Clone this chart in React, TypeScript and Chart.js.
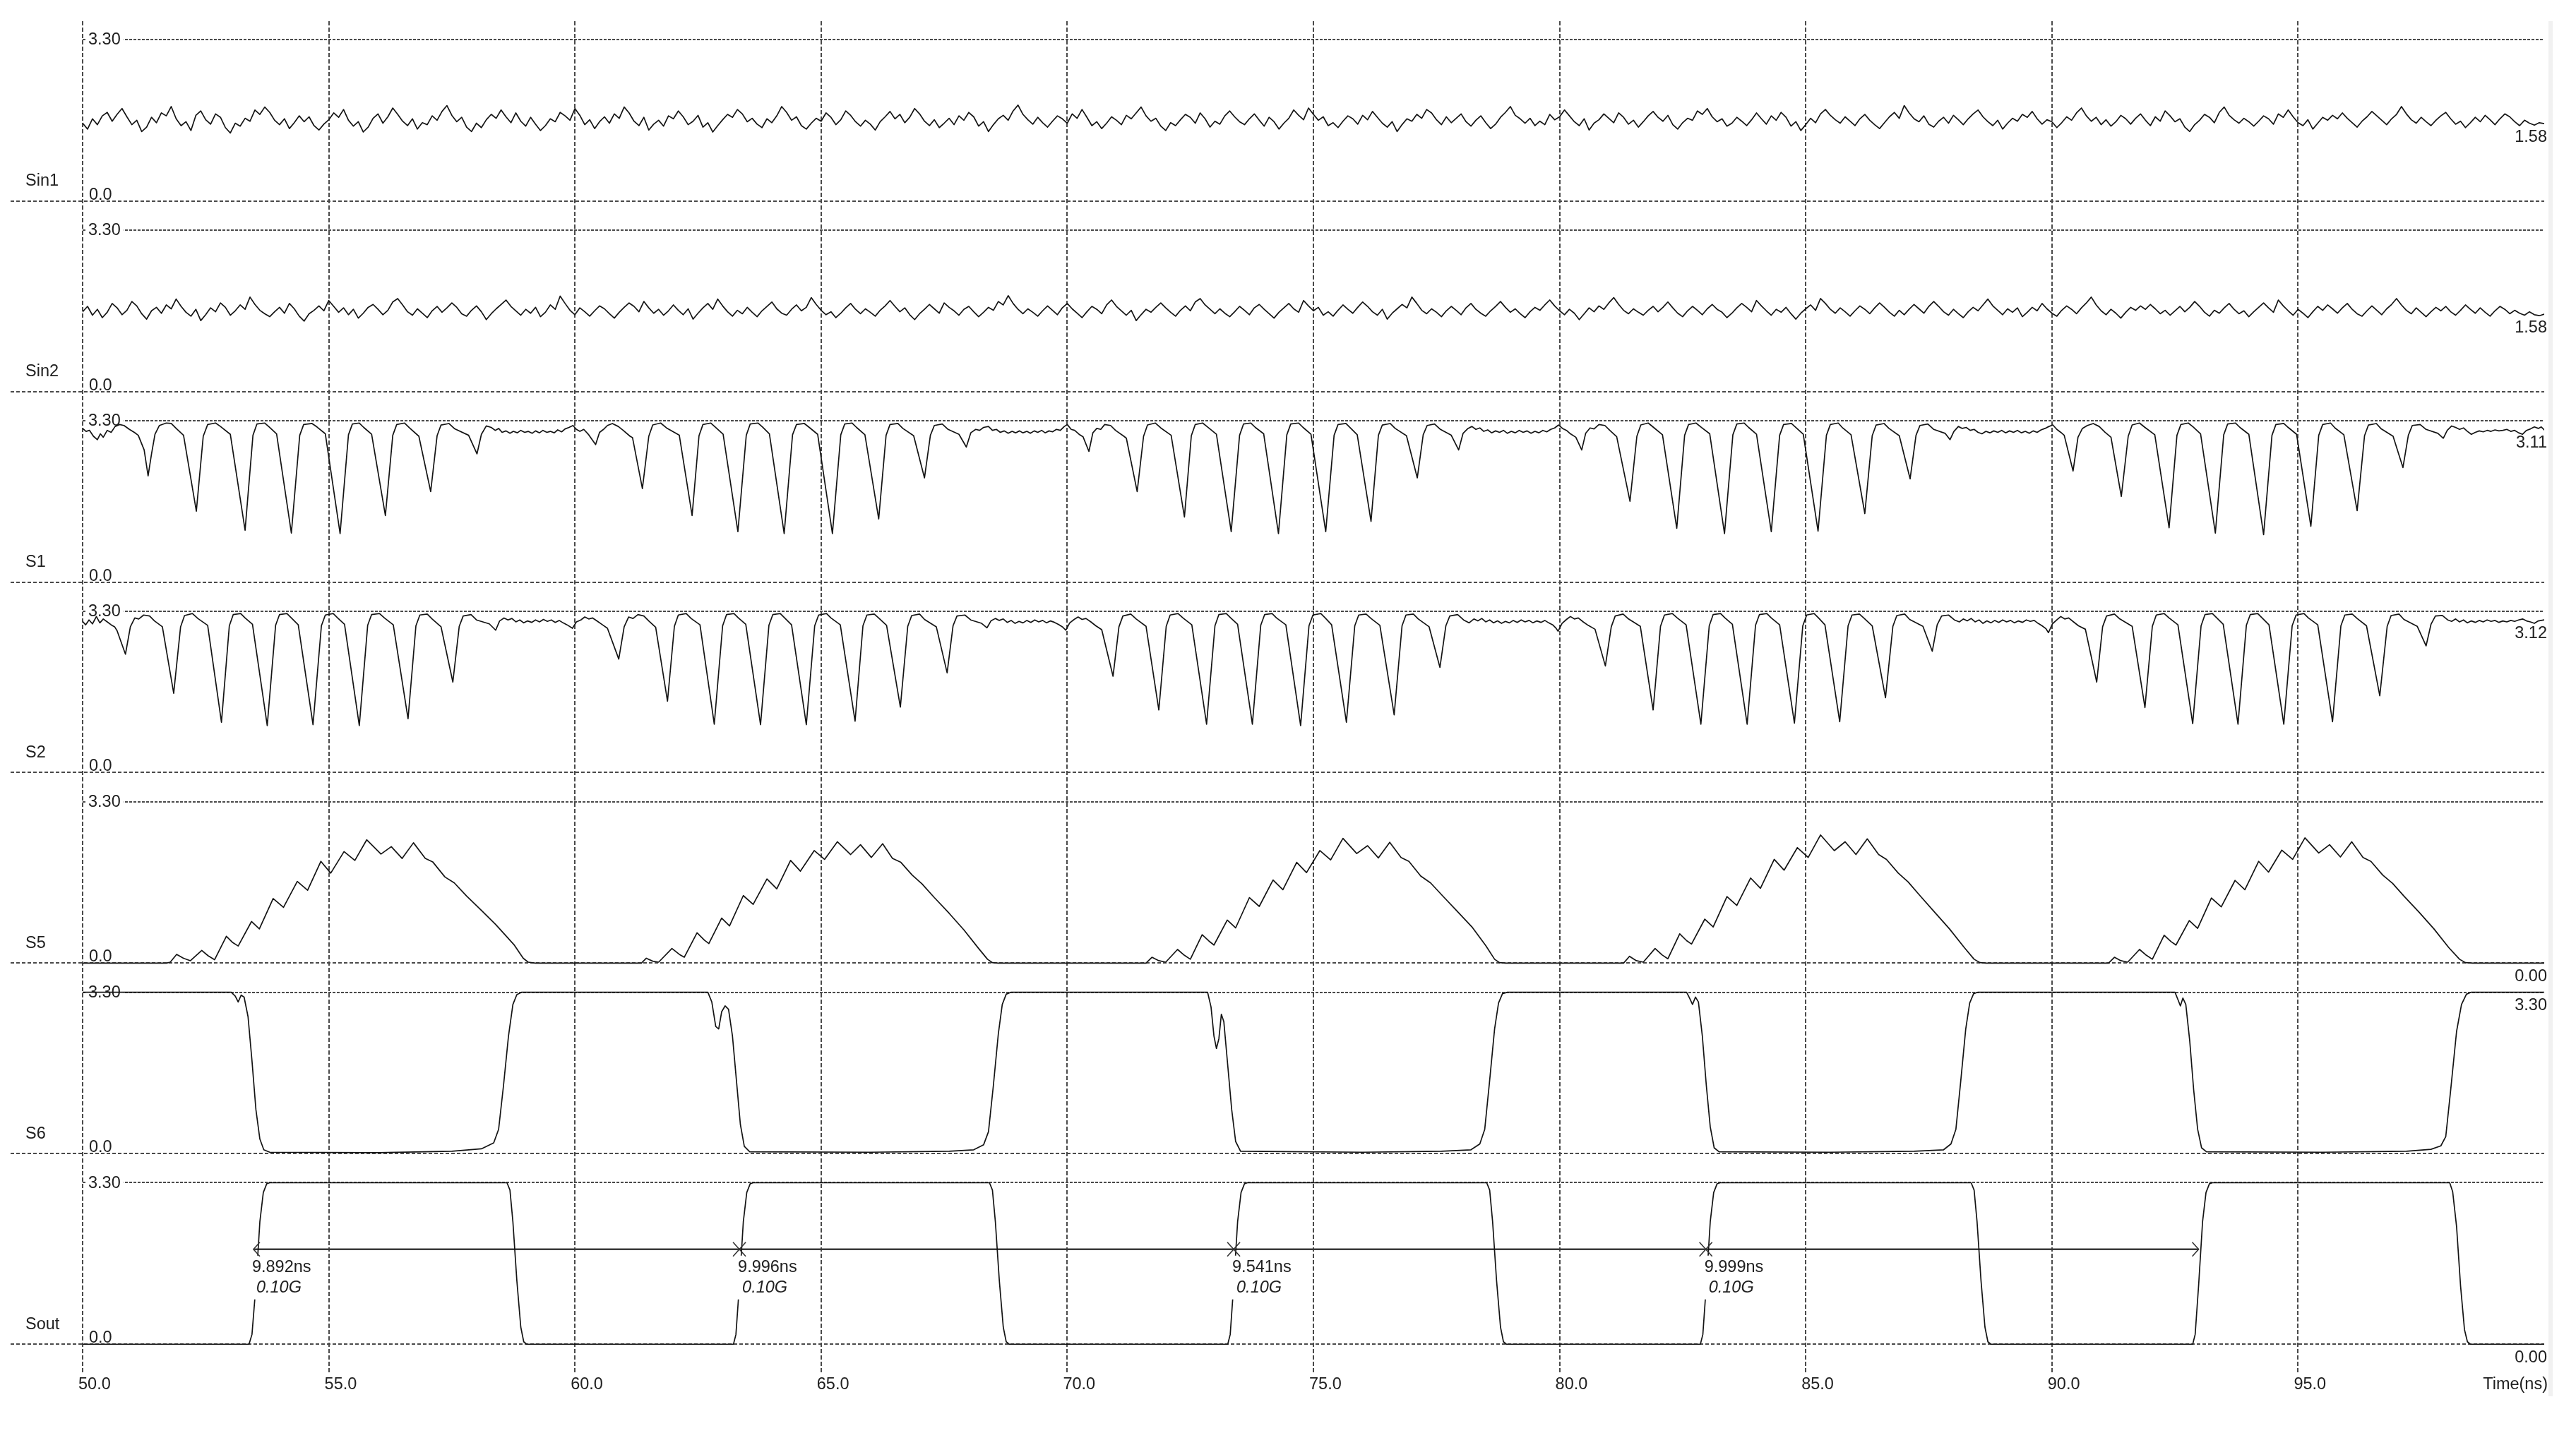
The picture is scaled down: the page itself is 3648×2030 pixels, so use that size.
import React, { useEffect, useRef } from 'react';
import { Chart, registerables } from 'chart.js';

Chart.register(...registerables);

// ---------------- data ----------------
const xTicks = [50, 55, 60, 65, 70, 75, 80, 85, 90, 95];
const panelNames = ['Sin1', 'Sin2', 'S1', 'S2', 'S5', 'S6', 'Sout'];
const endLabels = ['1.58', '1.58', '3.11', '3.12', '0.00', '3.30', '0.00'];
const topTickLabel = '3.30';
const bottomTickLabel = '0.0';
const axisTitle = 'Time(ns)';

const SIN_T0 = 50;
const SIN_DT = 0.1;

const sin1Values = [
  1.59,1.47,1.68,1.56,1.74,1.81,1.63,1.77,1.89,1.72,1.56,1.65,1.42,1.51,1.71,1.60,1.80,1.74,1.93,1.68,
  1.54,1.62,1.44,1.75,1.84,1.66,1.57,1.78,1.71,1.50,1.39,1.59,1.53,1.69,1.63,1.86,1.77,1.92,1.81,1.65,
  1.56,1.68,1.48,1.60,1.74,1.62,1.72,1.54,1.45,1.57,1.66,1.80,1.71,1.87,1.65,1.53,1.62,1.41,1.51,1.69,
  1.78,1.59,1.72,1.90,1.77,1.63,1.54,1.68,1.47,1.60,1.56,1.74,1.65,1.83,1.95,1.75,1.62,1.71,1.51,1.42,
  1.59,1.50,1.66,1.77,1.69,1.86,1.72,1.60,1.80,1.63,1.53,1.71,1.57,1.44,1.54,1.68,1.62,1.81,1.74,1.65,
  1.89,1.75,1.56,1.66,1.48,1.62,1.72,1.59,1.78,1.69,1.92,1.80,1.63,1.54,1.71,1.45,1.57,1.65,1.53,1.74,
  1.68,1.84,1.72,1.56,1.63,1.75,1.51,1.60,1.41,1.54,1.66,1.77,1.71,1.87,1.78,1.62,1.69,1.57,1.50,1.68,
  1.60,1.74,1.93,1.81,1.65,1.72,1.54,1.47,1.59,1.69,1.63,1.80,1.71,1.56,1.66,1.84,1.75,1.62,1.53,1.65,
  1.57,1.45,1.62,1.72,1.83,1.68,1.77,1.60,1.71,1.89,1.78,1.63,1.54,1.66,1.50,1.59,1.69,1.56,1.74,1.65,
  1.81,1.72,1.53,1.62,1.42,1.56,1.68,1.75,1.65,1.84,1.96,1.77,1.66,1.57,1.71,1.60,1.51,1.63,1.74,1.68,
  1.59,1.78,1.69,1.87,1.71,1.54,1.62,1.48,1.59,1.72,1.65,1.56,1.75,1.68,1.80,1.92,1.74,1.63,1.69,1.53,
  1.44,1.60,1.54,1.66,1.77,1.71,1.59,1.80,1.68,1.51,1.63,1.57,1.74,1.84,1.72,1.62,1.56,1.68,1.78,1.65,
  1.53,1.71,1.62,1.47,1.59,1.69,1.86,1.75,1.66,1.90,1.77,1.65,1.72,1.54,1.60,1.50,1.63,1.74,1.68,1.57,
  1.75,1.66,1.83,1.71,1.59,1.51,1.62,1.42,1.56,1.68,1.63,1.77,1.69,1.87,1.80,1.66,1.56,1.72,1.60,1.69,
  1.78,1.62,1.53,1.65,1.74,1.60,1.48,1.57,1.71,1.81,1.93,1.75,1.68,1.59,1.69,1.54,1.63,1.56,1.77,1.66,
  1.72,1.86,1.74,1.62,1.54,1.68,1.45,1.59,1.66,1.78,1.69,1.60,1.80,1.71,1.57,1.65,1.51,1.62,1.74,1.83,
  1.71,1.63,1.75,1.56,1.47,1.60,1.69,1.65,1.84,1.77,1.89,1.72,1.62,1.68,1.53,1.59,1.71,1.63,1.54,1.66,
  1.80,1.68,1.57,1.74,1.65,1.81,1.71,1.53,1.62,1.44,1.56,1.69,1.60,1.78,1.87,1.75,1.66,1.59,1.72,1.63,
  1.54,1.68,1.77,1.65,1.56,1.48,1.60,1.72,1.81,1.69,1.95,1.80,1.68,1.62,1.74,1.57,1.51,1.63,1.71,1.59,
  1.75,1.66,1.56,1.68,1.78,1.86,1.72,1.62,1.54,1.65,1.47,1.59,1.69,1.63,1.77,1.71,1.83,1.68,1.57,1.66,
  1.62,1.50,1.60,1.72,1.65,1.80,1.90,1.74,1.63,1.71,1.56,1.66,1.53,1.62,1.75,1.68,1.57,1.69,1.78,1.65,
  1.54,1.72,1.63,1.84,1.74,1.62,1.68,1.51,1.42,1.56,1.65,1.77,1.71,1.60,1.81,1.92,1.75,1.66,1.59,1.69,
  1.62,1.53,1.63,1.74,1.68,1.57,1.78,1.71,1.86,1.72,1.60,1.54,1.66,1.47,1.59,1.71,1.65,1.75,1.68,1.80,
  1.69,1.60,1.51,1.63,1.72,1.83,1.74,1.65,1.56,1.68,1.77,1.93,1.78,1.66,1.59,1.71,1.62,1.54,1.65,1.74,
  1.81,1.68,1.57,1.63,1.50,1.60,1.71,1.62,1.75,1.66,1.56,1.68,1.78,1.72,1.62,1.54,1.65,1.59,1.55,1.60,
  1.58,
];

const sin2Values = [
  1.63,1.74,1.56,1.68,1.51,1.62,1.80,1.71,1.57,1.66,1.84,1.75,1.59,1.48,1.65,1.72,1.60,1.77,1.69,1.89,
  1.74,1.62,1.54,1.68,1.45,1.57,1.71,1.63,1.81,1.72,1.56,1.65,1.77,1.68,1.93,1.78,1.66,1.59,1.53,1.63,
  1.72,1.60,1.80,1.69,1.54,1.44,1.59,1.66,1.75,1.65,1.86,1.74,1.62,1.71,1.57,1.68,1.50,1.60,1.72,1.78,
  1.68,1.57,1.66,1.83,1.90,1.77,1.63,1.56,1.69,1.60,1.51,1.65,1.74,1.62,1.71,1.81,1.72,1.59,1.54,1.66,
  1.75,1.63,1.47,1.59,1.69,1.78,1.87,1.74,1.65,1.56,1.68,1.60,1.72,1.53,1.62,1.77,1.68,1.95,1.80,1.66,
  1.57,1.71,1.63,1.54,1.65,1.75,1.69,1.59,1.50,1.62,1.72,1.81,1.74,1.63,1.84,1.71,1.60,1.68,1.56,1.65,
  1.77,1.66,1.57,1.69,1.48,1.60,1.71,1.80,1.68,1.89,1.75,1.63,1.54,1.66,1.59,1.72,1.62,1.53,1.65,1.74,
  1.83,1.69,1.60,1.56,1.68,1.77,1.65,1.72,1.92,1.78,1.66,1.57,1.63,1.51,1.60,1.71,1.80,1.68,1.59,1.69,
  1.62,1.54,1.66,1.75,1.86,1.74,1.63,1.71,1.57,1.47,1.59,1.68,1.78,1.69,1.60,1.81,1.72,1.65,1.56,1.68,
  1.74,1.63,1.53,1.62,1.72,1.66,1.84,1.77,1.96,1.80,1.68,1.59,1.69,1.62,1.54,1.65,1.75,1.66,1.57,1.71,
  1.80,1.69,1.60,1.51,1.63,1.74,1.68,1.59,1.77,1.87,1.74,1.65,1.56,1.66,1.45,1.57,1.68,1.62,1.72,1.81,
  1.71,1.62,1.54,1.66,1.75,1.65,1.83,1.90,1.77,1.68,1.59,1.69,1.60,1.53,1.63,1.74,1.66,1.57,1.71,1.78,
  1.68,1.59,1.50,1.62,1.71,1.80,1.69,1.62,1.86,1.75,1.65,1.72,1.56,1.63,1.54,1.66,1.77,1.68,1.60,1.72,
  1.83,1.74,1.63,1.56,1.68,1.48,1.60,1.69,1.78,1.71,1.93,1.80,1.66,1.59,1.69,1.62,1.53,1.65,1.74,1.66,
  1.57,1.71,1.80,1.68,1.60,1.54,1.65,1.74,1.84,1.72,1.62,1.69,1.59,1.51,1.63,1.72,1.66,1.77,1.87,1.75,
  1.65,1.57,1.68,1.60,1.47,1.59,1.71,1.63,1.75,1.68,1.81,1.92,1.78,1.66,1.59,1.69,1.62,1.56,1.66,1.74,
  1.63,1.72,1.83,1.71,1.60,1.53,1.65,1.74,1.66,1.57,1.69,1.78,1.68,1.62,1.51,1.60,1.71,1.80,1.72,1.63,
  1.86,1.75,1.65,1.56,1.68,1.62,1.72,1.59,1.48,1.60,1.69,1.77,1.66,1.90,1.80,1.68,1.60,1.71,1.63,1.54,
  1.65,1.75,1.68,1.59,1.71,1.81,1.72,1.62,1.54,1.66,1.57,1.68,1.78,1.69,1.60,1.74,1.84,1.74,1.63,1.56,
  1.68,1.59,1.51,1.63,1.72,1.65,1.77,1.89,1.75,1.66,1.57,1.69,1.62,1.71,1.53,1.62,1.72,1.65,1.80,1.69,
  1.60,1.54,1.66,1.75,1.68,1.59,1.71,1.81,1.93,1.77,1.65,1.57,1.68,1.60,1.50,1.62,1.72,1.66,1.75,1.68,
  1.78,1.69,1.59,1.66,1.56,1.65,1.74,1.63,1.72,1.84,1.74,1.62,1.54,1.66,1.60,1.71,1.80,1.68,1.59,1.65,
  1.53,1.63,1.72,1.81,1.71,1.62,1.87,1.75,1.65,1.56,1.68,1.60,1.51,1.63,1.74,1.66,1.77,1.69,1.60,1.71,
  1.80,1.68,1.59,1.54,1.65,1.75,1.66,1.57,1.69,1.78,1.90,1.77,1.66,1.59,1.71,1.62,1.53,1.63,1.72,1.65,
  1.74,1.63,1.56,1.66,1.77,1.68,1.60,1.71,1.62,1.54,1.65,1.74,1.68,1.59,1.66,1.60,1.56,1.63,1.57,1.55,
  1.58,
];

const s1Points = [
  [50.00,3.14],[50.07,3.08],[50.14,3.10],[50.22,2.98],[50.30,2.91],[50.36,3.03],[50.42,2.96],[50.50,3.10],[50.58,3.06],[50.66,3.18],[50.75,3.22],[50.84,3.20],[50.95,3.12],[51.05,3.06],[51.13,3.00],
  [51.25,2.70],[51.33,2.17],[51.40,2.62],[51.47,3.02],[51.56,3.20],[51.70,3.25],[51.80,3.24],[51.90,3.14],
  [52.05,3.00],[52.31,1.45],[52.45,2.98],[52.54,3.22],[52.70,3.25],[52.80,3.18],
  [53.00,3.02],[53.30,1.06],[53.46,3.00],[53.54,3.23],[53.70,3.25],[53.79,3.17],
  [53.94,3.03],[54.24,1.00],[54.41,3.00],[54.49,3.22],[54.66,3.24],[54.76,3.17],
  [54.93,3.03],[55.23,0.99],[55.40,3.01],[55.48,3.23],[55.62,3.25],[55.71,3.16],
  [55.87,3.02],[56.15,1.36],[56.30,3.00],[56.38,3.22],[56.54,3.25],[56.64,3.15],
  [56.83,2.98],[57.07,1.85],[57.20,2.99],[57.28,3.21],[57.44,3.24],[57.56,3.13],
  [57.84,3.00],[58.01,2.62],[58.10,3.02],[58.20,3.19],
  [58.30,3.16],[58.38,3.10],[58.45,3.14],[58.52,3.06],[58.60,3.09],[58.68,3.04],[58.75,3.08],[58.83,3.05],[58.90,3.10],[58.98,3.06],[59.05,3.08],[59.13,3.04],[59.20,3.09],[59.28,3.05],[59.35,3.10],[59.43,3.06],[59.50,3.08],[59.58,3.05],[59.65,3.11],[59.73,3.07],[59.80,3.13],[59.88,3.16],[59.96,3.20],[60.03,3.12],[60.10,3.08],[60.18,3.12],[60.28,3.01],
  [60.42,2.81],[60.50,3.06],[60.58,3.12],[60.66,3.20],[60.76,3.24],[60.88,3.18],[60.98,3.10],[61.12,2.98],
  [61.17,2.95],[61.37,1.91],[61.50,2.98],[61.58,3.21],[61.74,3.25],[61.86,3.15],
  [62.12,3.00],[62.38,1.36],[62.52,2.99],[62.60,3.22],[62.76,3.25],[62.86,3.16],
  [63.01,3.02],[63.31,1.03],[63.48,3.00],[63.56,3.23],[63.72,3.25],[63.81,3.17],
  [63.95,3.03],[64.25,0.99],[64.42,3.01],[64.50,3.22],[64.66,3.24],[64.76,3.16],
  [64.93,3.02],[65.23,0.99],[65.40,3.01],[65.48,3.23],[65.63,3.25],[65.72,3.16],
  [65.89,3.01],[66.17,1.29],[66.32,3.00],[66.40,3.22],[66.56,3.24],[66.66,3.14],
  [66.88,2.99],[67.10,2.13],[67.22,3.00],[67.30,3.20],[67.46,3.23],[67.58,3.12],
  [67.80,3.02],[67.95,2.76],[68.04,3.05],[68.14,3.12],
  [68.22,3.10],[68.30,3.16],[68.40,3.18],[68.48,3.10],[68.56,3.12],[68.64,3.06],[68.72,3.09],[68.80,3.04],[68.88,3.08],[68.95,3.05],[69.03,3.09],[69.10,3.05],[69.18,3.08],[69.25,3.04],[69.33,3.09],[69.40,3.06],[69.48,3.10],[69.55,3.05],[69.63,3.09],[69.70,3.07],[69.78,3.12],[69.86,3.10],[69.94,3.18],[70.00,3.22],[70.08,3.12],[70.15,3.10],[70.24,3.02],
  [70.32,2.97],[70.44,2.67],[70.52,3.05],[70.60,3.14],[70.68,3.12],[70.76,3.22],[70.88,3.20],[70.98,3.10],[71.15,2.98],
  [71.20,2.94],[71.42,1.85],[71.55,2.98],[71.63,3.21],[71.79,3.25],[71.90,3.15],
  [72.11,3.00],[72.38,1.33],[72.52,2.99],[72.60,3.22],[72.75,3.25],[72.85,3.17],
  [73.03,3.02],[73.33,1.03],[73.50,3.00],[73.58,3.23],[73.73,3.25],[73.82,3.16],
  [73.99,3.03],[74.29,0.99],[74.46,3.01],[74.54,3.23],[74.70,3.25],[74.79,3.16],
  [74.95,3.02],[75.25,1.03],[75.42,3.00],[75.50,3.22],[75.66,3.24],[75.75,3.15],
  [75.89,3.01],[76.17,1.24],[76.32,3.00],[76.40,3.21],[76.56,3.24],[76.66,3.14],
  [76.89,2.99],[77.11,2.13],[77.23,3.01],[77.31,3.20],[77.46,3.23],[77.58,3.12],
  [77.80,3.00],[77.95,2.70],[78.04,3.04],[78.14,3.14],
  [78.22,3.18],[78.30,3.12],[78.38,3.15],[78.46,3.08],[78.54,3.11],[78.62,3.05],[78.70,3.09],[78.78,3.06],[78.86,3.10],[78.94,3.04],[79.02,3.08],[79.10,3.05],[79.18,3.10],[79.26,3.06],[79.34,3.09],[79.42,3.04],[79.50,3.08],[79.58,3.05],[79.66,3.10],[79.74,3.07],[79.82,3.12],[79.90,3.15],[79.98,3.21],[80.06,3.14],[80.14,3.10],[80.22,3.03],
  [80.33,2.96],[80.45,2.70],[80.53,3.04],[80.62,3.15],[80.70,3.13],[80.80,3.22],[80.92,3.20],[81.02,3.10],[81.16,2.97],
  [81.43,1.65],[81.57,2.98],[81.65,3.21],[81.80,3.25],[81.91,3.16],
  [82.09,3.01],[82.38,1.10],[82.54,3.00],[82.62,3.22],[82.77,3.25],[82.87,3.17],
  [83.05,3.03],[83.35,0.99],[83.52,3.01],[83.60,3.23],[83.75,3.25],[83.84,3.16],
  [84.00,3.02],[84.30,1.03],[84.47,3.00],[84.55,3.22],[84.71,3.24],[84.80,3.16],
  [84.95,3.02],[85.25,1.04],[85.42,3.00],[85.50,3.22],[85.66,3.25],[85.75,3.15],
  [85.92,3.01],[86.20,1.40],[86.35,2.99],[86.43,3.21],[86.59,3.24],[86.69,3.14],
  [86.90,2.99],[87.12,2.11],[87.24,3.00],[87.32,3.20],[87.48,3.23],[87.60,3.12],
  [87.83,3.04],[87.93,2.91],[88.01,3.08],[88.10,3.18],
  [88.18,3.14],[88.26,3.16],[88.34,3.10],[88.42,3.12],[88.50,3.06],[88.58,3.03],[88.66,3.08],[88.74,3.05],[88.82,3.09],[88.90,3.06],[88.98,3.10],[89.06,3.05],[89.14,3.09],[89.22,3.06],[89.30,3.10],[89.38,3.05],[89.46,3.08],[89.54,3.04],[89.62,3.09],[89.70,3.06],[89.78,3.11],[89.86,3.14],[89.94,3.18],[90.02,3.21],[90.10,3.12],[90.18,3.06],
  [90.25,3.00],[90.43,2.27],[90.53,2.96],[90.62,3.14],[90.72,3.20],[90.84,3.24],[90.96,3.18],[91.08,3.06],[91.20,2.96],
  [91.41,1.75],[91.55,2.98],[91.63,3.21],[91.78,3.25],[91.89,3.16],
  [92.09,3.01],[92.38,1.11],[92.54,3.00],[92.62,3.22],[92.77,3.25],[92.87,3.17],
  [93.02,3.03],[93.32,1.00],[93.49,3.01],[93.57,3.23],[93.73,3.25],[93.82,3.16],
  [94.00,3.02],[94.30,0.97],[94.47,3.00],[94.55,3.22],[94.71,3.24],[94.80,3.16],
  [94.97,3.02],[95.26,1.14],[95.42,3.00],[95.50,3.22],[95.66,3.25],[95.75,3.15],
  [95.93,3.01],[96.20,1.46],[96.35,2.99],[96.43,3.21],[96.59,3.24],[96.69,3.13],
  [96.93,2.98],[97.13,2.34],[97.24,3.00],[97.32,3.20],[97.48,3.22],[97.60,3.12],
  [97.84,3.04],[97.95,2.94],[98.03,3.10],[98.12,3.19],
  [98.20,3.16],[98.28,3.12],[98.36,3.15],[98.44,3.08],[98.52,3.02],[98.60,3.06],[98.68,3.09],[98.76,3.07],[98.84,3.10],[98.92,3.08],[99.00,3.11],[99.08,3.09],[99.16,3.10],[99.24,3.12],[99.32,3.08],[99.40,3.10],[99.48,3.05],[99.56,3.02],[99.64,3.10],[99.72,3.13],[99.80,3.17],[99.88,3.14],[99.94,3.17],[100.00,3.11],
];

const s2Points = [
  [50.00,3.09],[50.06,3.02],[50.13,3.12],[50.20,3.04],[50.28,3.19],[50.35,3.06],[50.42,3.14],[50.50,3.08],[50.58,3.02],[50.65,2.98],[50.70,2.90],
  [50.87,2.42],[50.97,2.98],[51.06,3.16],[51.14,3.14],[51.24,3.22],[51.36,3.20],[51.46,3.10],[51.62,2.98],
  [51.85,1.62],[51.99,2.98],[52.07,3.21],[52.23,3.25],[52.34,3.15],
  [52.54,3.01],[52.82,1.03],[52.98,3.00],[53.06,3.23],[53.21,3.25],[53.30,3.16],
  [53.45,3.03],[53.75,0.96],[53.92,3.01],[54.00,3.23],[54.15,3.25],[54.24,3.16],
  [54.38,3.02],[54.68,0.98],[54.85,3.00],[54.93,3.22],[55.09,3.25],[55.18,3.16],
  [55.32,3.03],[55.62,0.96],[55.79,3.01],[55.87,3.23],[56.03,3.25],[56.13,3.16],
  [56.31,3.02],[56.61,1.10],[56.77,3.00],[56.85,3.22],[57.00,3.24],[57.10,3.14],
  [57.28,2.98],[57.52,1.85],[57.65,2.99],[57.73,3.20],[57.89,3.23],[58.00,3.12],
  [58.26,3.04],[58.39,2.91],[58.47,3.10],[58.56,3.16],
  [58.64,3.12],[58.72,3.15],[58.80,3.08],[58.88,3.12],[58.96,3.06],[59.04,3.10],[59.12,3.07],[59.20,3.12],[59.28,3.08],[59.36,3.13],[59.44,3.09],[59.52,3.12],[59.60,3.07],[59.68,3.11],[59.76,3.06],[59.84,3.02],
  [59.95,2.95],[60.03,3.08],[60.12,3.12],[60.20,3.18],[60.28,3.14],[60.36,3.16],[60.46,3.09],[60.56,3.02],[60.66,2.95],
  [60.89,2.32],[61.00,2.98],[61.09,3.18],[61.18,3.15],[61.28,3.23],[61.40,3.20],[61.50,3.10],[61.64,2.97],
  [61.88,1.46],[62.02,2.99],[62.10,3.22],[62.26,3.25],[62.36,3.15],
  [62.54,3.02],[62.83,0.99],[63.00,3.00],[63.08,3.23],[63.23,3.25],[63.32,3.16],
  [63.47,3.03],[63.77,0.98],[63.94,3.01],[64.02,3.23],[64.17,3.25],[64.26,3.16],
  [64.40,3.02],[64.70,0.98],[64.87,3.00],[64.95,3.22],[65.11,3.25],[65.20,3.16],
  [65.39,3.02],[65.69,1.05],[65.85,3.00],[65.93,3.22],[66.08,3.24],[66.18,3.15],
  [66.33,3.01],[66.61,1.34],[66.76,2.99],[66.84,3.21],[67.00,3.24],[67.10,3.13],
  [67.34,2.98],[67.56,2.04],[67.68,3.00],[67.76,3.20],[67.92,3.22],[68.04,3.12],
  [68.26,3.05],[68.37,2.96],[68.45,3.10],[68.54,3.15],
  [68.62,3.11],[68.70,3.14],[68.78,3.07],[68.86,3.11],[68.94,3.05],[69.02,3.09],[69.10,3.06],[69.18,3.11],[69.26,3.07],[69.34,3.12],[69.42,3.08],[69.50,3.11],[69.58,3.06],[69.66,3.10],[69.74,3.07],[69.82,3.03],[69.90,2.98],
  [69.97,2.91],[70.05,3.06],[70.14,3.13],[70.22,3.18],[70.30,3.13],[70.38,3.15],[70.48,3.08],[70.58,3.00],[70.70,2.92],
  [70.93,1.97],[71.05,2.98],[71.13,3.20],[71.29,3.24],[71.40,3.14],[71.60,2.99],
  [71.86,1.28],[72.01,2.99],[72.09,3.22],[72.25,3.25],[72.35,3.16],
  [72.53,3.02],[72.83,0.99],[73.00,3.00],[73.08,3.23],[73.23,3.25],[73.32,3.16],
  [73.46,3.03],[73.76,0.99],[73.93,3.01],[74.01,3.23],[74.16,3.25],[74.25,3.16],
  [74.44,3.02],[74.74,0.96],[74.91,3.00],[74.99,3.22],[75.15,3.25],[75.24,3.16],
  [75.37,3.02],[75.67,1.03],[75.84,3.00],[75.92,3.22],[76.07,3.24],[76.17,3.15],
  [76.35,3.01],[76.64,1.18],[76.80,3.00],[76.88,3.22],[77.03,3.24],[77.13,3.14],
  [77.35,2.98],[77.57,2.15],[77.69,3.00],[77.77,3.20],[77.93,3.23],[78.05,3.12],
  [78.16,3.06],[78.26,3.14],[78.34,3.10],[78.42,3.15],[78.50,3.08],[78.58,3.12],[78.66,3.06],[78.74,3.10],[78.82,3.05],[78.90,3.09],[78.98,3.06],[79.06,3.11],[79.14,3.07],[79.22,3.12],[79.30,3.08],[79.38,3.11],[79.46,3.06],[79.54,3.10],[79.62,3.07],[79.70,3.11],[79.78,3.06],[79.86,3.02],[79.92,2.96],
  [79.97,2.89],[80.05,3.05],[80.14,3.13],[80.22,3.19],[80.30,3.14],[80.38,3.16],[80.48,3.08],[80.58,3.01],[80.72,2.93],
  [80.93,2.18],[81.05,2.98],[81.13,3.20],[81.29,3.24],[81.40,3.14],[81.64,2.99],
  [81.90,1.28],[82.05,2.99],[82.13,3.22],[82.29,3.25],[82.39,3.16],
  [82.57,3.02],[82.87,0.99],[83.04,3.00],[83.12,3.23],[83.27,3.25],[83.36,3.16],
  [83.51,3.03],[83.81,0.99],[83.98,3.01],[84.06,3.23],[84.21,3.25],[84.30,3.16],
  [84.47,3.02],[84.77,1.01],[84.94,3.00],[85.02,3.22],[85.17,3.25],[85.26,3.16],
  [85.39,3.02],[85.69,1.04],[85.86,3.00],[85.94,3.22],[86.09,3.24],[86.19,3.15],
  [86.35,3.00],[86.62,1.53],[86.77,2.99],[86.85,3.21],[87.01,3.24],[87.11,3.13],
  [87.38,2.99],[87.57,2.48],[87.67,3.02],[87.76,3.20],[87.90,3.22],[88.02,3.12],
  [88.12,3.08],[88.20,3.14],[88.28,3.10],[88.36,3.15],[88.44,3.08],[88.52,3.12],[88.60,3.05],[88.68,3.10],[88.76,3.06],[88.84,3.11],[88.92,3.07],[89.00,3.12],[89.08,3.08],[89.16,3.11],[89.24,3.06],[89.32,3.10],[89.40,3.07],[89.48,3.12],[89.56,3.09],[89.64,3.11],[89.72,3.05],[89.80,3.00],[89.88,2.94],
  [89.93,2.86],[90.01,3.04],[90.10,3.12],[90.18,3.19],[90.26,3.14],[90.34,3.16],[90.44,3.08],[90.54,3.00],[90.68,2.93],
  [90.91,1.85],[91.03,2.98],[91.11,3.20],[91.27,3.24],[91.38,3.14],[91.63,2.99],
  [91.89,1.33],[92.04,2.99],[92.12,3.22],[92.28,3.25],[92.38,3.16],
  [92.56,3.02],[92.86,1.00],[93.03,3.00],[93.11,3.23],[93.26,3.25],[93.35,3.16],
  [93.48,3.03],[93.78,0.99],[93.95,3.01],[94.03,3.23],[94.18,3.25],[94.27,3.16],
  [94.41,3.02],[94.71,0.99],[94.88,3.00],[94.96,3.22],[95.12,3.25],[95.21,3.16],
  [95.40,3.02],[95.70,1.04],[95.87,3.00],[95.95,3.22],[96.10,3.24],[96.20,3.15],
  [96.39,3.00],[96.66,1.57],[96.81,2.99],[96.89,3.21],[97.05,3.24],[97.15,3.13],
  [97.42,2.99],[97.60,2.59],[97.70,3.03],[97.79,3.20],[97.93,3.21],[98.04,3.12],
  [98.12,3.09],[98.20,3.14],[98.28,3.08],[98.36,3.12],[98.44,3.06],[98.52,3.10],[98.60,3.07],[98.68,3.11],[98.76,3.08],[98.84,3.12],[98.92,3.09],[99.00,3.11],[99.08,3.07],[99.16,3.10],[99.24,3.08],[99.32,3.11],[99.40,3.09],[99.48,3.12],[99.56,3.14],[99.64,3.10],[99.72,3.08],[99.80,3.05],[99.88,3.10],[100.00,3.12],
];

const s5Points = [
  [50.00,0.00],[51.70,0.00],[51.78,0.02],[51.91,0.18],[52.05,0.10],[52.19,0.05],[52.42,0.26],[52.55,0.15],[52.68,0.07],[52.92,0.55],[53.05,0.42],[53.16,0.35],[53.43,0.85],[53.59,0.70],[53.87,1.32],[54.08,1.14],[54.36,1.67],[54.57,1.49],[54.84,2.08],[55.04,1.84],[55.31,2.28],[55.53,2.10],[55.77,2.52],[56.06,2.23],[56.27,2.38],[56.49,2.14],[56.72,2.46],[56.96,2.14],[57.11,2.07],[57.36,1.76],[57.55,1.64],[57.80,1.37],[58.10,1.08],[58.39,0.79],[58.76,0.38],[58.95,0.10],[59.05,0.02],[59.20,0.00],
  [61.35,0.00],[61.45,0.10],[61.58,0.04],[61.70,0.02],[61.97,0.30],[62.12,0.18],[62.22,0.12],[62.48,0.62],[62.63,0.47],[62.72,0.40],[62.98,0.92],[63.14,0.76],[63.42,1.38],[63.62,1.20],[63.90,1.72],[64.10,1.52],[64.38,2.10],[64.58,1.88],[64.86,2.30],[65.07,2.12],[65.33,2.48],[65.60,2.22],[65.80,2.42],[66.02,2.16],[66.25,2.44],[66.45,2.14],[66.62,2.06],[66.85,1.80],[67.05,1.62],[67.30,1.34],[67.60,1.02],[67.90,0.68],[68.20,0.30],[68.38,0.08],[68.48,0.01],[68.60,0.00],
  [71.60,0.00],[71.72,0.12],[71.86,0.05],[72.00,0.02],[72.24,0.28],[72.38,0.16],[72.50,0.08],[72.74,0.58],[72.88,0.45],[72.98,0.37],[73.25,0.88],[73.42,0.72],[73.70,1.34],[73.90,1.16],[74.18,1.70],[74.38,1.50],[74.66,2.06],[74.86,1.85],[75.13,2.30],[75.35,2.11],[75.60,2.55],[75.88,2.24],[76.10,2.40],[76.32,2.15],[76.55,2.47],[76.78,2.16],[76.94,2.08],[77.18,1.78],[77.38,1.64],[77.62,1.38],[77.92,1.06],[78.22,0.74],[78.50,0.36],[78.68,0.08],[78.78,0.01],[78.90,0.00],
  [81.30,0.00],[81.42,0.14],[81.56,0.05],[81.70,0.02],[81.94,0.30],[82.08,0.17],[82.20,0.09],[82.44,0.60],[82.58,0.46],[82.68,0.39],[82.95,0.90],[83.12,0.74],[83.40,1.36],[83.60,1.18],[83.88,1.74],[84.08,1.53],[84.36,2.12],[84.56,1.90],[84.83,2.36],[85.05,2.16],[85.30,2.62],[85.58,2.30],[85.80,2.48],[86.02,2.22],[86.25,2.54],[86.48,2.22],[86.64,2.12],[86.88,1.84],[87.08,1.66],[87.32,1.38],[87.62,1.04],[87.92,0.70],[88.22,0.32],[88.42,0.08],[88.54,0.01],[88.66,0.00],
  [91.15,0.00],[91.27,0.12],[91.40,0.05],[91.54,0.02],[91.78,0.28],[91.92,0.16],[92.04,0.08],[92.28,0.57],[92.42,0.44],[92.52,0.37],[92.79,0.87],[92.96,0.71],[93.24,1.33],[93.44,1.15],[93.72,1.69],[93.92,1.50],[94.20,2.08],[94.40,1.86],[94.67,2.31],[94.89,2.12],[95.14,2.56],[95.42,2.25],[95.64,2.42],[95.86,2.17],[96.09,2.48],[96.32,2.16],[96.48,2.08],[96.72,1.80],[96.92,1.63],[97.16,1.36],[97.46,1.04],[97.76,0.70],[98.06,0.32],[98.28,0.08],[98.40,0.01],[98.55,0.00],[100.00,0.00],
];

const s6Points = [
  [50.00,3.30],[53.02,3.30],[53.10,3.22],[53.16,3.10],[53.22,3.24],[53.28,3.20],[53.36,2.80],[53.44,1.90],[53.52,0.90],[53.60,0.30],[53.68,0.08],[53.80,0.03],[56.00,0.02],[57.50,0.05],[58.10,0.10],[58.35,0.22],[58.45,0.50],[58.55,1.40],[58.65,2.40],[58.74,3.05],[58.82,3.25],[58.92,3.30],
  [62.70,3.30],[62.78,3.10],[62.86,2.60],[62.92,2.55],[62.98,2.90],[63.05,3.02],[63.12,2.95],[63.20,2.40],[63.28,1.50],[63.36,0.60],[63.44,0.15],[63.55,0.04],[66.00,0.03],[67.60,0.05],[68.10,0.08],[68.30,0.18],[68.40,0.45],[68.50,1.40],[68.60,2.45],[68.68,3.05],[68.76,3.26],[68.86,3.30],
  [72.85,3.30],[72.92,3.00],[72.98,2.40],[73.03,2.15],[73.08,2.35],[73.13,2.85],[73.18,2.70],[73.26,1.80],[73.34,0.90],[73.42,0.25],[73.52,0.05],[76.00,0.03],[77.60,0.05],[78.20,0.08],[78.38,0.20],[78.48,0.50],[78.58,1.50],[78.68,2.55],[78.76,3.08],[78.84,3.27],[78.94,3.30],
  [82.58,3.30],[82.64,3.18],[82.70,3.05],[82.76,3.20],[82.82,3.10],[82.90,2.40],[82.98,1.40],[83.06,0.55],[83.14,0.12],[83.24,0.04],[85.50,0.03],[87.20,0.05],[87.80,0.08],[87.95,0.20],[88.05,0.50],[88.15,1.50],[88.25,2.55],[88.33,3.08],[88.41,3.27],[88.50,3.30],
  [92.50,3.30],[92.56,3.15],[92.61,3.02],[92.66,3.18],[92.72,3.05],[92.80,2.30],[92.88,1.30],[92.96,0.50],[93.04,0.12],[93.14,0.04],[95.50,0.03],[97.20,0.05],[97.70,0.09],[97.90,0.16],[98.00,0.35],[98.10,1.30],[98.22,2.50],[98.32,3.05],[98.42,3.26],[98.52,3.30],[100.00,3.30],
];

const soutPoints = [
  [50.00,0.00],[53.38,0.00],[53.44,0.20],[53.52,1.20],[53.60,2.50],[53.67,3.10],[53.74,3.28],[53.80,3.30],
  [58.62,3.30],[58.68,3.15],[58.74,2.50],[58.82,1.30],[58.90,0.35],[58.96,0.05],[59.02,0.00],
  [63.22,0.00],[63.27,0.20],[63.34,1.20],[63.42,2.50],[63.49,3.10],[63.56,3.28],[63.62,3.30],
  [68.42,3.30],[68.48,3.15],[68.54,2.50],[68.62,1.30],[68.70,0.35],[68.76,0.05],[68.82,0.00],
  [73.26,0.00],[73.31,0.20],[73.38,1.20],[73.46,2.50],[73.53,3.10],[73.60,3.28],[73.66,3.30],
  [78.52,3.30],[78.58,3.15],[78.64,2.50],[78.72,1.30],[78.80,0.35],[78.86,0.05],[78.92,0.00],
  [82.86,0.00],[82.91,0.20],[82.98,1.20],[83.06,2.50],[83.13,3.10],[83.20,3.28],[83.26,3.30],
  [88.36,3.30],[88.42,3.15],[88.48,2.50],[88.56,1.30],[88.64,0.35],[88.70,0.05],[88.76,0.00],
  [92.86,0.00],[92.91,0.20],[92.98,1.20],[93.06,2.50],[93.13,3.10],[93.20,3.28],[93.26,3.30],
  [98.08,3.30],[98.14,3.12],[98.22,2.40],[98.30,1.20],[98.38,0.30],[98.44,0.05],[98.50,0.00],[100.00,0.00],
];

const arrowTimes = [53.47, 63.34, 73.38, 82.97, 92.98];
const arrowLevel = 1.94;
const periodLabels = ['9.892ns', '9.996ns', '9.541ns', '9.999ns'];
const freqLabels = ['0.10G', '0.10G', '0.10G', '0.10G'];

// ---------------- layout / style ----------------
const W = 3648;
const H = 2030;
const FONT = '"Liberation Sans", Arial, Helvetica, sans-serif';
const FS = 23.5;
const TEXT = '#202020';
const GRID = '#4a4a4a';
const TRACE = '#141414';
const bandWeights = [266.2, 270.2, 270.2, 270.2, 270.2, 270.2, 299.8];
const bandMax = [3.6747, 3.7323, 3.7323, 3.7323, 3.7323, 3.7323, 3.7323];
const bandMin = [-0.1614, -0.1614, -0.1614, -0.1614, -0.1614, -0.1614, -0.588];

const overlayPlugin = {
  id: 'waveOverlay',
  beforeDatasetsDraw(chart: any) {
    const { ctx, chartArea } = chart;
    ctx.save();
    ctx.strokeStyle = GRID;
    ctx.lineWidth = 2;
    for (let i = 0; i < panelNames.length; i++) {
      const ys = chart.scales['y' + i];
      const yHi = Math.round(ys.getPixelForValue(3.3));
      const yLo = Math.round(ys.getPixelForValue(0));
      ctx.setLineDash([4, 2]);
      ctx.beginPath();
      ctx.moveTo(chartArea.left, yHi);
      ctx.lineTo(chartArea.right, yHi);
      ctx.stroke();
      ctx.setLineDash([5, 3]);
      ctx.beginPath();
      ctx.moveTo(15, yLo);
      ctx.lineTo(chartArea.right, yLo);
      ctx.stroke();
    }
    ctx.setLineDash([]);
    ctx.font = `${FS}px ${FONT}`;
    for (let i = 0; i < panelNames.length; i++) {
      const ys = chart.scales['y' + i];
      const yHi = ys.getPixelForValue(3.3);
      const yLo = ys.getPixelForValue(0);
      const tx = chartArea.left + 8;
      const w = ctx.measureText(topTickLabel).width;
      ctx.fillStyle = '#ffffff';
      ctx.fillRect(tx - 3, yHi - 9, w + 7, 18);
      ctx.fillStyle = TEXT;
      ctx.textAlign = 'left';
      ctx.textBaseline = 'middle';
      ctx.fillText(topTickLabel, tx, yHi + 1);
      ctx.textBaseline = 'alphabetic';
      ctx.fillText(bottomTickLabel, tx + 1, yLo - 2);
      ctx.textBaseline = 'middle';
      ctx.fillText(panelNames[i], 36, yLo - 28);
    }
    ctx.restore();
  },
  afterDatasetsDraw(chart: any) {
    const { ctx, chartArea } = chart;
    const xs = chart.scales.x;
    const ys = chart.scales['y6'];
    const ay = ys.getPixelForValue(arrowLevel);
    ctx.save();
    for (let i = 0; i < periodLabels.length; i++) {
      const px = xs.getPixelForValue(arrowTimes[i]);
      ctx.fillStyle = '#ffffff';
      ctx.fillRect(px - 4, ay + 9, 96, 62);
      ctx.fillStyle = TEXT;
      ctx.textAlign = 'left';
      ctx.textBaseline = 'middle';
      ctx.font = `${FS}px ${FONT}`;
      ctx.fillText(periodLabels[i], px - 2, ay + 26);
      ctx.font = `italic ${FS}px ${FONT}`;
      ctx.fillText(freqLabels[i], px + 4, ay + 55);
    }
    ctx.strokeStyle = '#333333';
    ctx.lineWidth = 1.6;
    arrowTimes.forEach((t, i) => {
      const px = xs.getPixelForValue(t);
      ctx.beginPath();
      if (i > 0) {
        ctx.moveTo(px - 9, ay - 10);
        ctx.lineTo(px, ay);
        ctx.lineTo(px - 9, ay + 10);
      }
      if (i < arrowTimes.length - 1) {
        ctx.moveTo(px + 9, ay - 10);
        ctx.lineTo(px, ay);
        ctx.lineTo(px + 9, ay + 10);
      }
      ctx.stroke();
    });
    ctx.font = `${FS}px ${FONT}`;
    ctx.fillStyle = TEXT;
    ctx.textAlign = 'right';
    ctx.textBaseline = 'middle';
    const lastVals = [
      sin1Values[sin1Values.length - 1],
      sin2Values[sin2Values.length - 1],
      s1Points[s1Points.length - 1][1],
      s2Points[s2Points.length - 1][1],
      s5Points[s5Points.length - 1][1],
      s6Points[s6Points.length - 1][1],
      soutPoints[soutPoints.length - 1][1],
    ];
    for (let i = 0; i < panelNames.length; i++) {
      const y = chart.scales['y' + i].getPixelForValue(lastVals[i]);
      ctx.fillText(endLabels[i], chartArea.right + 4, y + 19);
    }
    ctx.restore();
  },
  afterDraw(chart: any) {
    const { ctx, chartArea } = chart;
    const xAxis = chart.scales.x;
    ctx.save();
    ctx.fillStyle = '#f1f1f1';
    ctx.fillRect(chartArea.right + 6, chartArea.top, 6, chartArea.bottom + 33 - chartArea.top);
    ctx.font = `${FS}px ${FONT}`;
    ctx.fillStyle = TEXT;
    ctx.textAlign = 'right';
    ctx.textBaseline = 'middle';
    ctx.fillText(axisTitle, chartArea.right + 5, xAxis.top + 2 + (FS * 1.2) / 2);
    ctx.restore();
  },
};

function toXY(points: number[][]) {
  return points.map((p) => ({ x: p[0], y: p[1] }));
}

export default function App() {
  const canvasRef = useRef<HTMLCanvasElement | null>(null);

  useEffect(() => {
    document.body.style.margin = '0';
    document.body.style.background = '#ffffff';
    const canvas = canvasRef.current;
    if (!canvas) return;

    const sin1Data = sin1Values.map((v, i) => ({ x: SIN_T0 + i * SIN_DT, y: v }));
    const sin2Data = sin2Values.map((v, i) => ({ x: SIN_T0 + i * SIN_DT, y: v }));
    const series = [sin1Data, sin2Data, toXY(s1Points), toXY(s2Points), toXY(s5Points), toXY(s6Points), toXY(soutPoints)];

    const datasets: any[] = series.map((data, i) => ({
      label: panelNames[i],
      data,
      yAxisID: 'y' + i,
      xAxisID: 'x',
      borderColor: TRACE,
      borderWidth: 1.7,
      pointRadius: 0,
      tension: 0,
      fill: false,
      borderJoinStyle: 'round',
      borderCapStyle: 'round',
    }));
    datasets.push({
      label: 'period',
      data: arrowTimes.map((t) => ({ x: t, y: arrowLevel })),
      yAxisID: 'y6',
      xAxisID: 'x',
      borderColor: '#3a3a3a',
      borderWidth: 2.6,
      pointRadius: 0,
      tension: 0,
      fill: false,
    });

    const scales: any = {
      x: {
        type: 'linear',
        position: 'bottom',
        min: 50,
        max: 100,
        afterBuildTicks: (axis: any) => {
          axis.ticks = xTicks.map((v) => ({ value: v }));
        },
        grid: { color: GRID, lineWidth: 2, drawTicks: false },
        border: { display: false, dash: [6, 3] },
        ticks: {
          align: 'start',
          labelOffset: -6,
          padding: 2,
          color: TEXT,
          font: { family: FONT, size: FS },
          maxRotation: 0,
          autoSkip: false,
          callback: (v: any) => Number(v).toFixed(1),
        },
      },
    };
    // left stacked boxes are laid out in reverse definition order,
    // so define the bottom panel first to get Sin1 on top.
    for (let i = panelNames.length - 1; i >= 0; i--) {
      scales['y' + i] = {
        type: 'linear',
        axis: 'y',
        position: 'left',
        display: false,
        stack: 'waves',
        stackWeight: bandWeights[i],
        min: bandMin[i],
        max: bandMax[i],
      };
    }

    const chart = new Chart(canvas, {
      type: 'line',
      data: { datasets },
      options: {
        animation: false,
        responsive: false,
        maintainAspectRatio: false,
        devicePixelRatio: 1,
        layout: { padding: { left: 117, right: 45, top: 30, bottom: 52.8 } },
        plugins: { legend: { display: false }, tooltip: { enabled: false } },
        scales,
      } as any,
      plugins: [overlayPlugin as any],
    });

    return () => chart.destroy();
  }, []);

  return <canvas ref={canvasRef} width={W} height={H} style={{ display: 'block', width: W, height: H }} />;
}
